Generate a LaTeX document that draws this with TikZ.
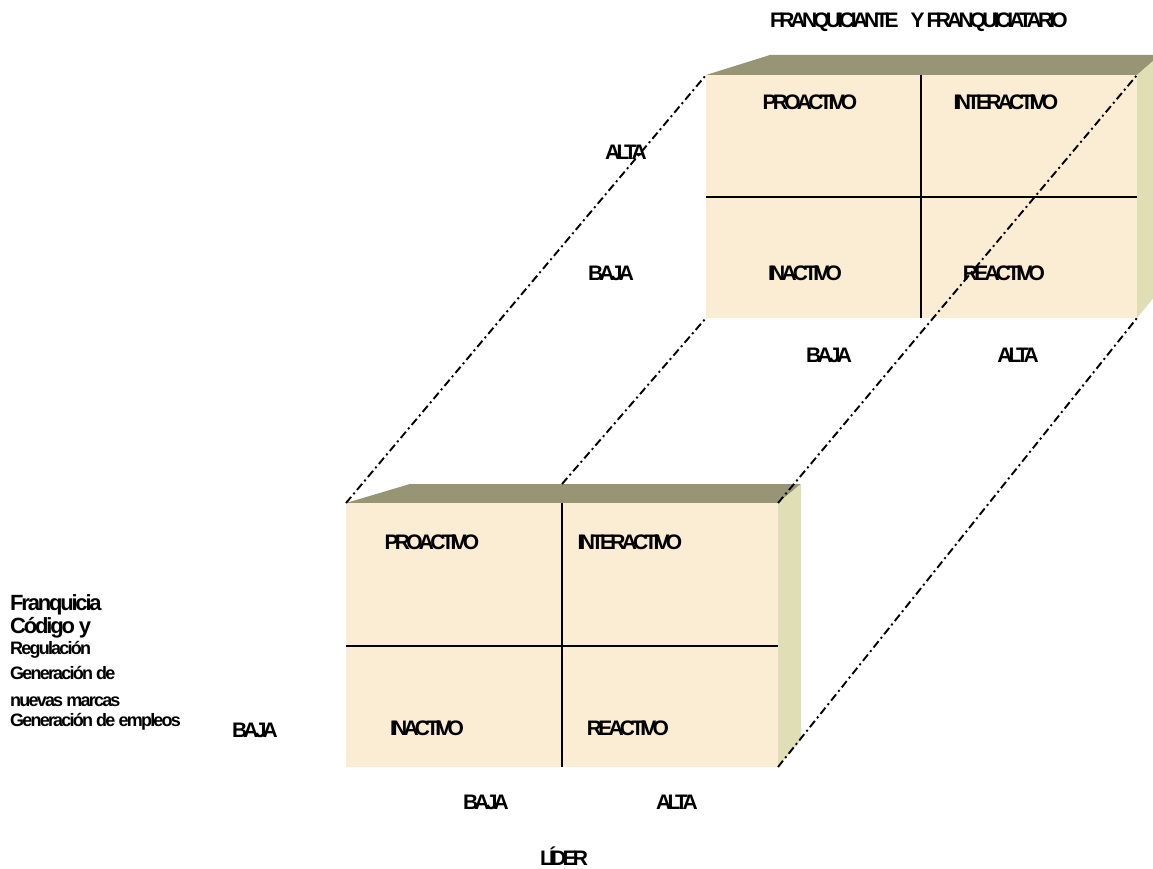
\documentclass[tikz,border=0pt]{standalone}
\usepackage{fontspec}
\setmainfont{Liberation Sans}
\newfontfamily\lblfont{Liberation Sans}[LetterSpace=-18]
\newfontfamily\sidefont{Liberation Sans}[LetterSpace=-10]
\usetikzlibrary{positioning}
\definecolor{cream}{RGB}{251,237,211}
\definecolor{olive}{RGB}{151,149,117}
\definecolor{sage}{RGB}{223,222,180}
\tikzset{
  x=1pt, y=-1pt,
}
\tikzstyle{every node}=[font=\lblfont\bfseries\fontsize{21}{21}\selectfont, inner sep=0pt]
\tikzstyle{front}=[fill=cream]
\tikzstyle{topface}=[fill=olive]
\tikzstyle{sideface}=[fill=sage]
\tikzstyle{divider}=[line width=1.6pt]
\tikzstyle{guide}=[line width=1.9pt, dash pattern=on 8pt off 3.5pt on 2pt off 3.5pt]
\tikzstyle{side text}=[anchor=base west, font=\sidefont\bfseries\fontsize{18}{18}\selectfont]

\begin{document}
\begin{tikzpicture}
    \useasboundingbox (0,0) rectangle (1153,869);
    \begin{scope}
    \clip (0,0) rectangle (1153,869);
    % lower box
    \coordinate (a-tl) at (346,503);
    \coordinate (a-tr) at (778,503);
    \coordinate (a-br) at (778,767);
    \coordinate (a-bl) at (346,767);
    \coordinate (a-back) at (562,484);
    \fill[topface] (a-tl) -- (410,484) -- (801,484) -- (a-tr) -- cycle;
    \fill[sideface] (a-tr) -- (801,484) -- (801,740) -- (a-br) -- cycle;
    \fill[front] (a-tl) rectangle (a-br);
    \draw[divider] (562,503) -- (562,767);
    \draw[divider] (346,646) -- (778,646);
    % upper box
    \coordinate (b-tl) at (706,75);
    \coordinate (b-tr) at (1137,75);
    \coordinate (b-br) at (1137,318);
    \coordinate (b-bl) at (706,318);
    \fill[topface] (b-tl) -- (770,55) -- (1160,55) -- (b-tr) -- cycle;
    \fill[sideface] (b-tr) -- (1160,55) -- (1160,290) -- (b-br) -- cycle;
    \fill[front] (b-tl) rectangle (b-br);
    \draw[divider] (921,75) -- (921,318);
    \draw[divider] (706,197) -- (1137,197);
    % guides
    \draw[guide] (a-tl) -- (b-tl);
    \draw[guide] (a-back) -- (b-bl);
    \draw[guide] (a-tr) -- (b-tr);
    \draw[guide] (a-br) -- (b-br);
    \end{scope}
    % quadrant labels
    \node (pro-a) at (432,542) {PROACTIVO};
    \node (inter-a) at (630,542) {INTERACTIVO};
    \node (inac-a) at (427,728) {INACTIVO};
    \node (reac-a) at (628,728) {REACTIVO};
    \node (pro-b) at (810,102) {PROACTIVO};
    \node (inter-b) at (1006,102) {INTERACTIVO};
    \node (inac-b) at (805,273) {INACTIVO};
    \node (reac-b) at (1004,273) {REACTIVO};
    % axis labels
    \node (baja-al) at (255,730) {BAJA};
    \node (baja-ab) at (486,802) {BAJA};
    \node (alta-ab) at (677,802) {ALTA};
    \node (lider) at (564,856) {LÍDER};
    \node (alta-bl) at (626,152) {ALTA};
    \node (baja-bl) at (611,273) {BAJA};
    \node (baja-bb) at (829,355) {BAJA};
    \node (alta-bb) at (1018,355) {ALTA};
    \node (socios) at (919,22) {FRANQUICIANTE\hspace{12pt}Y FRANQUICIATARIO};
    % left block
    \node[side text, font=\sidefont\bfseries\fontsize{22}{22}\selectfont] (fq) at (10,610) {Franquicia};
    \node[side text, font=\sidefont\bfseries\fontsize{22}{22}\selectfont] (cod) at (10,633) {Código y};
    \node[side text] (reg) at (10,654) {Regulación};
    \node[side text] (gen) at (10,679) {Generación de};
    \node[side text] (nue) at (10,706) {nuevas marcas};
    \node[side text] (emp) at (10,726) {Generación de empleos};
\end{tikzpicture}
\end{document}
